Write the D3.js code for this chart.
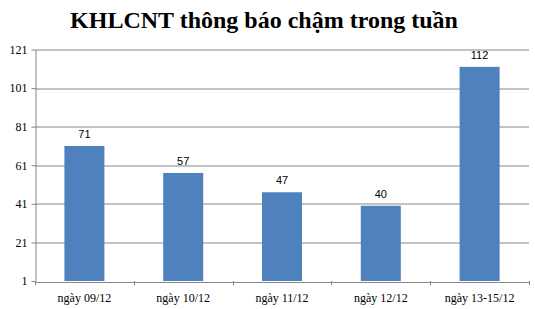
<!DOCTYPE html>
<html>
<head>
<meta charset="utf-8">
<script src="https://cdnjs.cloudflare.com/ajax/libs/d3/7.8.5/d3.min.js"></script>
<style>
  body { margin: 0; background: #fff; }
  svg { display: block; }
  text { font-family: 'Liberation Serif', 'Times New Roman', serif; }
</style>
</head>
<body>
<script>
const title = 'KHLCNT thông báo chậm trong tuần'
const categories = ['ngày 09/12', 'ngày 10/12', 'ngày 11/12', 'ngày 12/12', 'ngày 13-15/12']
const values = [71, 57, 47, 40, 112]
const yTicks = [1, 21, 41, 61, 81, 101, 121]

const W = 535, H = 309
const margin = { top: 49.5, right: 6, bottom: 28, left: 35 }
const width = W - margin.left - margin.right
const height = H - margin.top - margin.bottom

const svg = d3.select('body').append('svg')
    .attr('width', W)
    .attr('height', H)

svg.append('text')
    .attr('x', 264)
    .attr('y', 28)
    .attr('text-anchor', 'middle')
    .attr('font-size', 24)
    .attr('font-weight', 'bold')
    .text(title)

const g = svg.append('g')
    .attr('transform', 'translate(' + margin.left + ',' + margin.top + ')')

const x = d3.scaleBand()
    .domain(categories)
    .range([0, width])
    .paddingInner(0.595)
    .paddingOuter(0.2975)

const y = d3.scaleLinear()
    .domain([1, 121])
    .range([height, 0])

// gridlines
g.append('g')
    .selectAll('line')
    .data(yTicks.slice(1))
    .enter().append('line')
    .attr('x1', 0)
    .attr('x2', width)
    .attr('y1', d => Math.round(y(d)) + 0.5)
    .attr('y2', d => Math.round(y(d)) + 0.5)
    .attr('stroke', '#868686')

// y axis
const yAxis = g.append('g')
    .attr('transform', 'translate(0.5,0)')
    .call(d3.axisLeft(y).tickValues(yTicks).tickSize(4).tickPadding(4).tickSizeOuter(0))
yAxis.selectAll('path, line').attr('stroke', '#868686')
yAxis.selectAll('text').attr('font-size', 12).attr('fill', '#000')
    .style('font-family', "'Liberation Serif', serif")

// x axis
const xAxis = g.append('g')
    .attr('transform', 'translate(0,' + (Math.round(height) + 0.5) + ')')
    .call(d3.axisBottom(x).tickSize(0).tickPadding(11))
xAxis.select('path').attr('stroke', '#868686')
xAxis.selectAll('text').attr('font-size', 12).attr('fill', '#000')
    .style('font-family', "'Liberation Serif', serif")

// category boundary ticks
const step = width / categories.length
g.append('g')
    .selectAll('line')
    .data(d3.range(categories.length + 1))
    .enter().append('line')
    .attr('x1', d => Math.round(d * step) + 0.5)
    .attr('x2', d => Math.round(d * step) + 0.5)
    .attr('y1', height)
    .attr('y2', height + 4)
    .attr('stroke', '#868686')

// bars
g.append('g')
    .selectAll('rect')
    .data(values)
    .enter().append('rect')
    .attr('x', (d, i) => x(categories[i]))
    .attr('y', d => y(d))
    .attr('width', x.bandwidth())
    .attr('height', d => height - y(d))
    .attr('fill', '#4F81BD')

// labels
g.append('g')
    .selectAll('text')
    .data(values)
    .enter().append('text')
    .attr('x', (d, i) => x(categories[i]) + x.bandwidth() / 2)
    .attr('y', d => y(d) - 8)
    .attr('text-anchor', 'middle')
    .attr('font-size', 11)
    .style('font-family', "'Liberation Sans', Arial, sans-serif")
    .text(d => d)
</script>
</body>
</html>
